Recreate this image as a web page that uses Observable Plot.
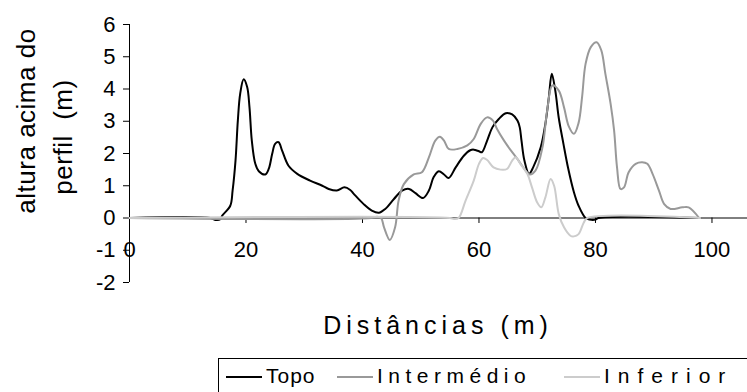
<!DOCTYPE html>
<html><head><meta charset="utf-8">
<script src="https://cdn.jsdelivr.net/npm/d3@7"></script>
<script src="https://cdn.jsdelivr.net/npm/@observablehq/plot@0.6"></script>
<style>
body{margin:0;background:#fff;font-family:"Liberation Sans",Arial,sans-serif;}
#wrap{position:relative;width:747px;height:392px;overflow:hidden;background:#fff;}
#xtitle{position:absolute;left:129px;width:618px;top:311px;text-align:center;font-size:25px;letter-spacing:5px;color:#000;}
#legend{position:absolute;left:218px;top:358px;width:540px;height:44px;border:1px solid #000;box-sizing:border-box;}
.item{position:absolute;top:4px;font-size:21px;white-space:nowrap;line-height:26px;}
.swatch{display:inline-block;width:36px;height:0;border-top:2px solid;vertical-align:middle;margin-right:4px;}
</style></head><body><div id="wrap"><div id="xtitle">Distâncias (m)</div><div id="legend"></div></div>
<script>
const seriesNames = ["Topo", "Intermédio", "Inferior"];
const seriesColors = ["#000000", "#999999", "#cccccc"];
const xTicks = [0, 20, 40, 60, 80, 100];
const yTicks = [-2, -1, 0, 1, 2, 3, 4, 5, 6];

const topoX = [0, 13.9, 14.7, 15.6, 15.9, 17.3, 17.7, 18.2, 18.6, 19.0, 19.6, 20.2, 20.6, 21.0, 21.6, 22.2, 23.3, 23.9, 24.5, 25.0, 25.6, 26.2, 27.3, 28.8, 31.0, 33.1, 34.2, 35.6, 36.9, 37.9, 38.5, 40.2, 41.6, 42.8, 43.9, 45.4, 46.8, 48.0, 49.1, 50.4, 51.4, 52.2, 53.1, 54.0, 54.8, 56.0, 57.4, 58.5, 59.1, 60.0, 60.5, 61.4, 62.3, 63.4, 64.6, 65.7, 66.6, 67.0, 67.3, 67.8, 68.6, 69.3, 70.6, 71.4, 72.0, 72.5, 73.1, 73.7, 74.5, 75.3, 76.3, 77.1, 78.3, 79.0, 80.0, 80.5, 98];
const topoY = [0, 0, -0.06, -0.04, 0.07, 0.38, 0.85, 1.78, 3.02, 3.85, 4.3, 4.06, 3.43, 2.4, 1.68, 1.45, 1.35, 1.52, 1.99, 2.3, 2.35, 2.09, 1.62, 1.37, 1.16, 1.0, 0.9, 0.85, 0.95, 0.87, 0.75, 0.43, 0.23, 0.16, 0.28, 0.59, 0.85, 0.9, 0.77, 0.62, 0.85, 1.26, 1.45, 1.35, 1.24, 1.57, 1.93, 2.1, 2.12, 2.07, 2.04, 2.4, 2.81, 3.07, 3.25, 3.21, 3.02, 2.81, 2.4, 1.78, 1.37, 1.57, 2.19, 2.92, 3.75, 4.47, 3.95, 3.1, 2.3, 1.55, 0.8, 0.38, 0, -0.05, -0.05, 0, 0];

const interX = [0, 41.5, 42.5, 43.2, 43.7, 44.7, 45.6, 46.2, 47.1, 48.8, 50.2, 51.4, 52.5, 53.3, 54.0, 54.8, 56.3, 58.0, 59.1, 60.3, 61.4, 62.4, 63.1, 64.3, 65.7, 66.8, 68.0, 68.7, 69.7, 70.9, 71.7, 72.6, 73.7, 74.6, 75.4, 76.3, 77.1, 77.7, 78.3, 79.2, 80.2, 81.0, 81.7, 82.6, 83.2, 83.7, 84.3, 84.9, 85.7, 86.9, 88.0, 88.9, 89.8, 90.9, 91.8, 92.9, 94.9, 96.0, 97.8];
const interY = [0, 0, 0.04, 0, -0.29, -0.68, -0.29, 0.54, 1.05, 1.35, 1.42, 1.88, 2.4, 2.52, 2.4, 2.14, 2.14, 2.25, 2.45, 2.92, 3.12, 3.02, 2.76, 2.4, 2.04, 1.78, 1.47, 1.35, 1.47, 2.19, 3.33, 4.11, 3.95, 3.43, 2.85, 2.61, 2.95, 3.75, 4.78, 5.3, 5.45, 5.2, 4.47, 3.54, 2.71, 1.57, 0.9, 0.95, 1.42, 1.68, 1.73, 1.68, 1.37, 0.85, 0.43, 0.28, 0.33, 0.33, 0];

const infX = [0, 55.0, 55.7, 56.5, 57.7, 59.1, 60.0, 60.7, 61.4, 62.5, 63.7, 64.8, 65.7, 66.3, 67.1, 68.3, 69.1, 70.0, 70.7, 71.4, 72.3, 72.9, 73.7, 74.6, 75.7, 76.3, 77.1, 78.0, 78.6, 98];
const infY = [0, 0, -0.03, 0, 0.54, 1.16, 1.68, 1.86, 1.8, 1.57, 1.5, 1.52, 1.78, 1.88, 1.68, 1.37, 0.95, 0.48, 0.33, 0.64, 1.21, 1.0, 0.12, -0.29, -0.55, -0.57, -0.5, -0.14, 0, 0];

const seriesX = [topoX, interX, infX];
const seriesY = [topoY, interY, infY];
const rows = seriesNames.flatMap((s, i) => seriesX[i].map((x, j) => ({series: s, x, y: seriesY[i][j]})));

const font = "Liberation Sans, Arial, sans-serif";
const chart = Plot.plot({
  width: 747, height: 300,
  marginLeft: 129, marginRight: 0, marginTop: 24, marginBottom: 18,
  x: {domain: [0, 106.1], axis: null},
  y: {domain: [-2, 6], axis: null},
  color: {domain: seriesNames, range: seriesColors},
  style: {fontFamily: font, background: "white", color: "#000"},
  marks: [
    Plot.axisY({ticks: yTicks, tickSize: 6, tickPadding: 8, tickFormat: d => String(d), label: null, fontSize: 22, stroke: "#000"}),
    Plot.ruleX([0], {y1: -2, y2: 6, stroke: "#000"}),
    Plot.ruleY([0], {stroke: "#000"}),
    Plot.ruleX(xTicks, {y1: 0, y2: -0.17, stroke: "#000"}),
    Plot.text(xTicks, {x: d => d, y: -1, text: d => String(d), fontSize: 22, lineAnchor: "middle", fill: "#000"}),
    Plot.line(rows, {x: "x", y: "y", z: "series", stroke: "series", strokeWidth: 2, curve: "catmull-rom"})
  ]
});
const wrap = document.getElementById("wrap");
wrap.insertBefore(chart, wrap.firstChild);
chart.style.position = "absolute"; chart.style.left = "0"; chart.style.top = "0";

const svg = d3.select(chart);
const titles = [["altura acima do", 35, 121], ["perfil  (m)", 72, 137]];
titles.forEach(([t, x, y]) => {
  svg.append("text").attr("transform", `translate(${x},${y}) rotate(-90)`)
    .attr("text-anchor", "middle")
    .attr("font-size", 26).attr("letter-spacing", "0.5px").attr("fill", "#000")
    .attr("font-family", font).attr("xml:space", "preserve").text(t);
});

const legend = document.getElementById("legend");
const lefts = [7, 118, 345];
const spacings = [1, 5.5, 8];
seriesNames.forEach((s, i) => {
  const it = document.createElement("div");
  it.className = "item"; it.style.left = lefts[i] + "px"; it.style.letterSpacing = spacings[i] + "px";
  const sw = document.createElement("span"); sw.className = "swatch"; sw.style.borderTopColor = seriesColors[i];
  it.appendChild(sw); it.appendChild(document.createTextNode(s));
  legend.appendChild(it);
});
</script></body></html>
